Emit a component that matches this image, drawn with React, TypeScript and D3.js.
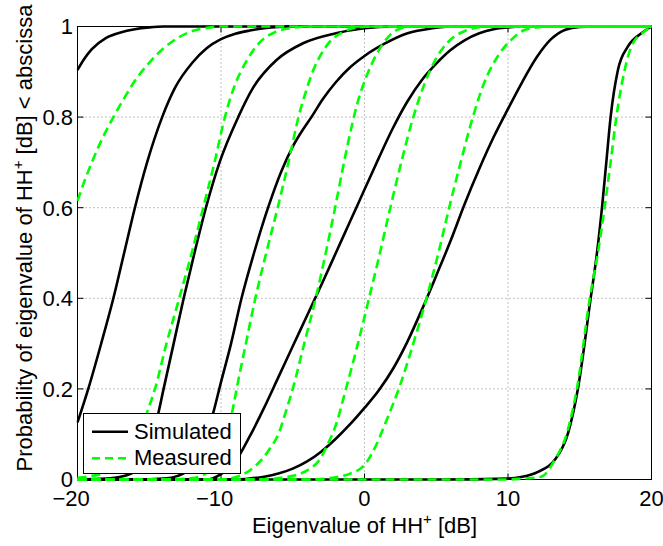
import React from "react";
import * as d3 from "d3";

type Pt = [number, number];

// Simulated (black solid) curves, [eigenvalue dB, probability]
const simulated1: Pt[] = [[-20, 0.904], [-19.5, 0.93], [-19, 0.95], [-18, 0.975], [-17, 0.987], [-16, 0.994], [-15, 0.998], [-14, 1], [20, 1]];
const simulated2: Pt[] = [[-20, 0.126], [-19.25, 0.2], [-18.35, 0.3], [-17.5, 0.4], [-16.75, 0.5], [-16, 0.6], [-15.15, 0.7], [-14.1, 0.8], [-13.2, 0.865], [-12, 0.92], [-11, 0.952], [-10, 0.972], [-9, 0.984], [-8, 0.991], [-7, 0.996], [-6, 0.999], [-5, 1], [20, 1]];
const simulated3: Pt[] = [[-20, 0], [-18, 0.002], [-17, 0.006], [-16, 0.018], [-15.5, 0.04], [-15, 0.075], [-14.37, 0.146], [-14, 0.2], [-13.3, 0.3], [-12.6, 0.4], [-11.85, 0.5], [-11.05, 0.6], [-10.1, 0.7], [-8.8, 0.8], [-7.76, 0.865], [-6.13, 0.926], [-4.28, 0.963], [-2, 0.985], [0, 0.996], [2, 1], [20, 1]];
const simulated4: Pt[] = [[-20, 0], [-16, 0], [-14, 0.002], [-13, 0.008], [-12, 0.03], [-11.3, 0.07], [-10.6, 0.14], [-10, 0.215], [-9.3, 0.3], [-8.57, 0.4], [-7.7, 0.5], [-6.72, 0.6], [-5.8, 0.68], [-5.0, 0.735], [-4.3, 0.772], [-3.7, 0.8], [-2.9, 0.84], [-2, 0.877], [-1, 0.91], [0, 0.935], [1.4, 0.962], [3, 0.985], [4.7, 0.996], [6, 1], [20, 1]];
const simulated5: Pt[] = [[-20, 0], [-11, 0], [-10, 0.012], [-9, 0.04], [-8, 0.095], [-7, 0.158], [-6, 0.226], [-5, 0.294], [-4, 0.362], [-3, 0.43], [-2, 0.5], [-1, 0.57], [0, 0.64], [1, 0.71], [2, 0.777], [3, 0.835], [4, 0.882], [5, 0.918], [6, 0.948], [7, 0.97], [8, 0.985], [9, 0.994], [10, 0.998], [11, 1], [20, 1]];
const simulated6: Pt[] = [[-20, 0], [-9, 0], [-8, 0.002], [-7, 0.006], [-6, 0.013], [-5, 0.024], [-4, 0.04], [-3, 0.062], [-2, 0.09], [-1, 0.122], [0, 0.158], [1, 0.197], [2, 0.245], [3, 0.305], [4, 0.375], [5, 0.45], [6, 0.527], [7, 0.61], [8, 0.686], [9, 0.756], [10, 0.818], [11, 0.878], [12, 0.932], [13, 0.972], [14, 0.993], [15, 0.999], [16, 1], [20, 1]];
const simulated7: Pt[] = [[-20, 0], [5, 0], [10, 0.002], [11, 0.006], [12.09, 0.017], [13.25, 0.043], [14.18, 0.102], [14.87, 0.2], [15.76, 0.4], [16.2, 0.5], [16.55, 0.6], [16.85, 0.7], [17.15, 0.8], [17.66, 0.904], [18.36, 0.956], [19.29, 0.985], [20, 1]];

// Measured (green dashed) curves
const measured1: Pt[] = [[-20, 0.615], [-19.5, 0.66], [-19, 0.7], [-18.5, 0.737], [-18, 0.77], [-17.5, 0.8], [-17, 0.828], [-16, 0.88], [-15, 0.92], [-14, 0.952], [-13, 0.975], [-12, 0.99], [-11, 0.997], [-10, 1], [20, 1]];
const measured2: Pt[] = [[-20, 0.004], [-19, 0.008], [-18, 0.015], [-17, 0.035], [-16, 0.08], [-15.18, 0.146], [-14.6, 0.2], [-13.8, 0.3], [-13, 0.39], [-12, 0.505], [-11.24, 0.6], [-10.45, 0.7], [-9.73, 0.8], [-9.1, 0.865], [-8.2, 0.925], [-7.3, 0.965], [-6.2, 0.988], [-5, 0.997], [-4, 1], [20, 1]];
const measured3: Pt[] = [[-20, 0], [-14, 0], [-12, 0.003], [-11, 0.015], [-10.5, 0.035], [-10, 0.065], [-9.5, 0.11], [-9.15, 0.16], [-8.91, 0.2], [-8.3, 0.295], [-7.64, 0.395], [-6.85, 0.5], [-6.05, 0.6], [-5.3, 0.7], [-4.6, 0.8], [-4.05, 0.86], [-3.55, 0.905], [-3, 0.94], [-2.4, 0.967], [-1.6, 0.986], [-0.8, 0.996], [0.5, 1], [20, 1]];
const measured4: Pt[] = [[-20, 0], [-10, 0], [-9, 0.005], [-8, 0.02], [-7, 0.05], [-6.6, 0.068], [-6, 0.1], [-5.5, 0.148], [-5, 0.2], [-4.2, 0.3], [-3.4, 0.4], [-2.7, 0.5], [-2.05, 0.6], [-1.3, 0.72], [-0.5, 0.83], [0.2, 0.895], [0.95, 0.945], [1.6, 0.975], [2.3, 0.993], [3.5, 1], [20, 1]];
const measured5: Pt[] = [[-20, 0], [-7, 0], [-6, 0.003], [-5, 0.008], [-4, 0.02], [-3, 0.05], [-2.65, 0.072], [-2, 0.12], [-1.25, 0.205], [-0.5, 0.295], [0.2, 0.385], [1, 0.49], [1.8, 0.6], [2.6, 0.705], [3.4, 0.8], [4.2, 0.875], [5, 0.93], [5.8, 0.965], [7, 0.99], [8.5, 1], [20, 1]];
const measured6: Pt[] = [[-20, 0], [-4, 0], [-2, 0.005], [-1, 0.013], [0, 0.032], [0.8, 0.075], [1.5, 0.128], [2.5, 0.21], [3.4, 0.3], [4.32, 0.4], [5.15, 0.5], [5.9, 0.6], [6.7, 0.7], [7.55, 0.8], [8.4, 0.88], [9.3, 0.935], [10.2, 0.97], [11, 0.99], [12, 0.998], [13, 1], [20, 1]];
const measured7: Pt[] = [[-20, 0], [10, 0], [11, 0.002], [12.3, 0.006], [13.25, 0.043], [14.1, 0.102], [14.8, 0.2], [15.7, 0.4], [16.3, 0.507], [16.73, 0.6], [17.15, 0.7], [17.55, 0.8], [18.13, 0.904], [18.6, 0.956], [19.5, 0.989], [20, 1]];

const simulatedSeries = [simulated1, simulated2, simulated3, simulated4, simulated5, simulated6, simulated7];
const measuredSeries = [measured1, measured2, measured3, measured4, measured5, measured6, measured7];

const xTicks = [-20, -10, 0, 10, 20];
const yTicks = [0, 0.2, 0.4, 0.6, 0.8, 1];
const yTickLabels = ["0", "0.2", "0.4", "0.6", "0.8", "1"];
const legendLabels = ["Simulated", "Measured"];

const FONT = "'Liberation Sans', Arial, Helvetica, sans-serif";
const FS = 22;

export default function App() {
  const W = 663, H = 546;
  const left = 77.5, right = 651.5, top = 26.5, bottom = 479.5;
  const x = d3.scaleLinear().domain([-20, 20]).range([left, right]);
  const y = d3.scaleLinear().domain([0, 1]).range([bottom, top]);
  const line = d3.line<Pt>().x(d => x(d[0])).y(d => y(d[1])).curve(d3.curveMonotoneX);
  const digitW = 0.556 * FS;
  const tickLen = 6;
  const green = "#00ff00";

  const legX = 83.5, legY = 413.5, legW = 157, legH = 60;

  return (
    <svg width={W} height={H} style={{ position: "absolute", left: 0, top: 0, display: "block", background: "#fff" }} fontFamily={FONT}>
      <defs>
        <clipPath id="plotclip">
          <rect x={left - 1} y={top - 1.5} width={right - left + 2} height={bottom - top + 3} />
        </clipPath>
      </defs>
      <rect x={0} y={0} width={W} height={H} fill="#fff" />
      {/* grid */}
      {xTicks.filter(t => t > -20 && t < 20).map(t => (
        <line key={"gx" + t} x1={x(t)} x2={x(t)} y1={top} y2={bottom} stroke="#666" strokeWidth={0.8} strokeDasharray="1,3" />
      ))}
      {yTicks.filter(t => t > 0 && t < 1).map(t => (
        <line key={"gy" + t} x1={left} x2={right} y1={y(t)} y2={y(t)} stroke="#666" strokeWidth={0.8} strokeDasharray="1,3" />
      ))}
      {/* frame */}
      <rect x={left} y={top} width={right - left} height={bottom - top} fill="none" stroke="#000" strokeWidth={1} />
      {xTicks.map(t => (
        <g key={"tx" + t}>
          <line x1={x(t)} x2={x(t)} y1={bottom} y2={bottom - tickLen} stroke="#000" strokeWidth={1} />
          <line x1={x(t)} x2={x(t)} y1={top} y2={top + tickLen} stroke="#000" strokeWidth={1} />
          <text x={x(t) + (String(Math.abs(t)).length * digitW) / 2} y={506} textAnchor="end" fontSize={FS} fill="#000">
            {(t < 0 ? "\u2212" : "") + String(Math.abs(t))}
          </text>
        </g>
      ))}
      {yTicks.map((t, i) => (
        <g key={"ty" + t}>
          <line x1={left} x2={left + tickLen} y1={y(t)} y2={y(t)} stroke="#000" strokeWidth={1} />
          <line x1={right} x2={right - tickLen} y1={y(t)} y2={y(t)} stroke="#000" strokeWidth={1} />
          <text x={73} y={y(t)} dy="0.36em" textAnchor="end" fontSize={FS} fill="#000">{yTickLabels[i]}</text>
        </g>
      ))}
      {/* curves */}
      <g clipPath="url(#plotclip)">
        {simulatedSeries.map((s, i) => (
          <path key={"s" + i} d={line(s) || ""} fill="none" stroke="#000" strokeWidth={2.6} strokeLinejoin="round" />
        ))}
        {measuredSeries.map((s, i) => (
          <path key={"m" + i} d={line(s) || ""} fill="none" stroke={green} strokeWidth={2.6} strokeDasharray="9,5" />
        ))}
      </g>
      {/* legend */}
      <rect x={legX} y={legY} width={legW} height={legH} fill="#fff" stroke="#000" strokeWidth={1} />
      <line x1={92} x2={128} y1={431.7} y2={431.7} stroke="#000" strokeWidth={2.6} />
      <line x1={92} x2={128} y1={458.3} y2={458.3} stroke={green} strokeWidth={2.6} strokeDasharray="8,5" />
      <text x={134} y={438.5} fontSize={FS} fill="#000">{legendLabels[0]}</text>
      <text x={134} y={465} fontSize={FS} fill="#000">{legendLabels[1]}</text>
      {/* axis labels */}
      <text x={(left + right) / 2} y={533} textAnchor="middle" fontSize={FS} fill="#000">
        Eigenvalue of HH<tspan fontSize={15} dy={-9}>+</tspan><tspan dy={9}> [dB]</tspan>
      </text>
      <text transform={`translate(32,238) rotate(-90)`} textAnchor="middle" fontSize={FS} fill="#000">
        Probability of eigenvalue of HH<tspan fontSize={15} dy={-9}>+</tspan><tspan dy={9}> [dB] &lt; abscissa</tspan>
      </text>
    </svg>
  );
}
